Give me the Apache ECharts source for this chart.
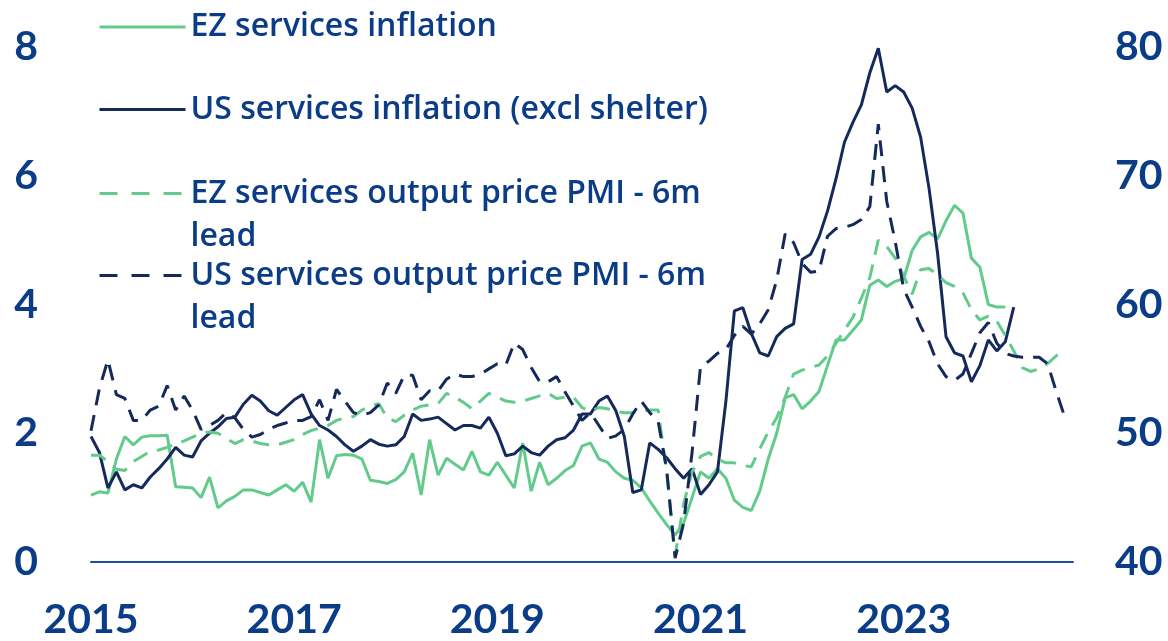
<!DOCTYPE html>
<html>
<head>
<meta charset="utf-8">
<script src="https://cdn.jsdelivr.net/npm/echarts@6/dist/echarts.min.js"></script>
<style>
html,body{margin:0;padding:0;background:#fff;}
#c{width:1168px;height:641px;}
</style>
</head>
<body>
<div id="c"></div>
<script>
// Monthly categories Jan 2015 .. Sep 2024
const startYear = 2015, monthCount = 117;
const months = [];
for (let i = 0; i < monthCount; i++) {
  const y = startYear + Math.floor(i / 12), m = (i % 12) + 1;
  months.push(y + '-' + (m < 10 ? '0' + m : m));
}
const yearTicks = ['2015', '2017', '2019', '2021', '2023'];

const seriesNames = [
  'EZ services inflation',
  'US services inflation (excl shelter)',
  'EZ services output price PMI - 6m lead',
  'US services output price PMI - 6m lead'
];

// EZ services inflation (% y/y, left axis), from Jan 2015
const ezInflation = [1.04,1.09,1.07,1.6,1.95,1.82,1.94,1.96,1.96,1.97,
 1.17,1.16,1.15,1.0,1.32,0.84,0.95,1.02,1.12,1.12,
 1.08,1.04,1.12,1.2,1.1,1.24,0.93,1.9,1.3,1.65,
 1.67,1.66,1.6,1.27,1.25,1.22,1.28,1.4,1.69,1.04,
 1.9,1.35,1.61,1.52,1.43,1.72,1.4,1.35,1.55,1.35,
 1.15,1.85,1.1,1.55,1.2,1.3,1.42,1.5,1.8,1.85,
 1.6,1.55,1.4,1.3,1.27,1.15,0.95,0.76,0.58,0.42,
 0.6,1.0,1.4,1.3,1.45,1.3,0.96,0.85,0.8,1.1,
 1.6,2.0,2.55,2.6,2.38,2.5,2.65,3.05,3.45,3.45,
 3.6,3.76,4.3,4.38,4.28,4.36,4.4,4.84,5.05,5.12,
 5.02,5.3,5.54,5.42,4.72,4.58,4.0,3.96,3.96];

// US services inflation excl shelter (% y/y, left axis)
const usInflation = [1.95,1.7,1.15,1.4,1.12,1.2,1.15,1.32,1.45,1.6,
 1.78,1.66,1.63,1.88,2.0,2.1,2.23,2.25,2.45,2.59,
 2.5,2.35,2.28,2.4,2.52,2.6,2.3,2.12,2.05,1.95,
 1.82,1.72,1.8,1.9,1.83,1.8,1.82,1.95,2.3,2.2,
 2.22,2.25,2.15,2.05,2.12,2.12,2.08,2.25,2.0,1.65,
 1.68,1.8,1.7,1.66,1.8,1.9,1.93,2.05,2.3,2.3,
 2.5,2.58,2.35,1.95,1.08,1.12,1.85,1.75,1.62,1.45,
 1.3,1.45,1.05,1.2,1.4,2.5,3.9,3.95,3.55,3.25,
 3.2,3.5,3.63,3.7,4.7,4.78,5.05,5.45,5.95,6.52,
 6.83,7.1,7.6,7.98,7.3,7.4,7.3,7.05,6.6,5.8,
 4.8,3.5,3.25,3.2,2.8,3.05,3.45,3.28,3.42,3.96];

// EZ services output price PMI, 6m lead (index, right axis)
const ezPmiLead = [48.3,48.3,47.8,47.2,47.1,47.8,48.2,48.6,48.7,48.9,
 49.2,49.4,49.7,50.0,50.1,50.0,49.6,49.2,49.5,49.4,
 49.2,49.1,49.1,49.3,49.5,49.9,50.2,50.4,50.6,51.0,
 51.2,51.3,51.8,52.1,52.3,51.2,50.9,51.4,51.8,52.1,
 52.2,52.3,53.1,52.8,52.4,51.9,52.5,53.1,52.8,52.5,
 52.4,52.5,52.7,52.9,53.1,52.7,52.8,52.8,52.0,51.7,
 52.0,51.9,51.7,51.6,51.6,51.7,51.8,51.8,47.0,40.5,
 44.5,47.0,48.2,48.5,48.0,47.7,47.7,47.5,47.4,48.8,
 50.1,51.2,52.8,54.6,54.9,55.1,55.3,56.0,57.0,58.0,
 59.0,60.5,62.1,65.0,64.5,63.6,62.2,60.8,62.7,62.8,
 62.3,61.7,61.4,60.9,59.6,58.8,59.1,58.7,57.6,56.4,
 55.1,54.8,55.0,55.4,56.0,56.6];

// US services output price PMI, 6m lead (index, right axis)
const usPmiLead = [50.2,53.5,55.7,53.0,52.7,51.0,51.0,51.8,52.1,53.7,
 51.8,52.9,51.8,50.3,50.6,51.0,51.6,51.2,50.3,49.7,
 49.9,50.3,50.6,50.8,51.0,51.0,51.3,52.6,51.0,53.4,
 52.5,51.6,51.4,51.6,52.2,53.9,53.1,54.5,54.5,52.6,
 53.3,53.3,54.2,54.6,54.4,54.4,54.6,55.0,55.4,55.3,
 57.0,56.5,55.1,54.0,54.0,54.4,53.2,52.1,51.0,51.6,
 50.6,49.6,49.8,50.3,51.5,52.5,51.6,50.9,47.2,40.3,
 43.0,48.5,55.2,55.6,56.2,56.5,57.6,58.3,57.7,58.5,
 59.6,61.9,65.5,64.8,63.2,62.5,62.6,65.3,65.9,66.0,
 66.2,66.6,67.6,74.0,68.0,64.9,61.2,59.8,58.3,57.1,
 55.4,54.4,54.1,54.6,56.2,57.8,58.6,57.0,56.2,56.0,
 55.9,55.9,55.9,55.4,53.3,51.3];

const NAVY = '#15295b', GREEN = '#62cb8c', TEXT = '#0b3c87', AXIS = '#1f4e9b';
const AXIS_FONT = 'Lato';
const LEG_FONT = 'Open Sans';
const LH = 43;

// Two-line entries get an empty first line so the symbol lines up with the first text line
function legendFor(name, label, top, color, dashed) {
  return {
    data: [name],
    left: 98, top: top, padding: 0,
    itemWidth: 86, itemHeight: 14,
    lineStyle: { color: color, width: 3, type: dashed ? [18, 14] : 'solid' },
    itemStyle: { opacity: 0 },
    formatter: () => label,
    textStyle: {
      color: TEXT, fontFamily: LEG_FONT, fontWeight: 600, fontSize: 32,
      lineHeight: LH
    },
    selectedMode: false
  };
}

const chart = echarts.init(document.getElementById('c'));
chart.setOption({
  animation: false,
  backgroundColor: '#fff',
  grid: { left: 91, right: 95, top: 47, bottom: 79 },
  legend: [
    legendFor(seriesNames[0], 'EZ services inflation', 27 - LH / 2, GREEN, false),
    legendFor(seriesNames[1], 'US services inflation (excl shelter)', 109.5 - LH / 2, NAVY, false),
    legendFor(seriesNames[2], '\nEZ services output price PMI - 6m\nlead', 193.5 - 1.5 * LH, GREEN, true),
    legendFor(seriesNames[3], '\nUS services output price PMI - 6m\nlead', 275.5 - 1.5 * LH, NAVY, true)
  ],
  xAxis: {
    type: 'category', data: months, boundaryGap: false,
    axisLine: { show: true, onZero: false, lineStyle: { color: AXIS, width: 2 } },
    axisTick: { show: false },
    axisLabel: {
      interval: (i, v) => v.slice(5) === '01' && yearTicks.indexOf(v.slice(0, 4)) >= 0,
      formatter: v => v.slice(0, 4),
      color: TEXT, fontFamily: AXIS_FONT, fontWeight: 'bold', fontSize: 41, margin: 37
    },
    splitLine: { show: false }
  },
  yAxis: [
    {
      type: 'value', min: 0, max: 8, interval: 2,
      axisLine: { show: false }, axisTick: { show: false }, splitLine: { show: false },
      axisLabel: { color: TEXT, fontFamily: AXIS_FONT, fontWeight: 'bold', fontSize: 41, margin: 53 }
    },
    {
      type: 'value', min: 40, max: 80, interval: 10, position: 'right',
      axisLine: { show: false }, axisTick: { show: false }, splitLine: { show: false },
      axisLabel: { color: TEXT, fontFamily: AXIS_FONT, fontWeight: 'bold', fontSize: 41, margin: 42 }
    }
  ],
  series: [
    { name: seriesNames[0], type: 'line', yAxisIndex: 0, data: ezInflation, symbol: 'none',
      lineStyle: { color: GREEN, width: 3 }, itemStyle: { color: GREEN } },
    { name: seriesNames[1], type: 'line', yAxisIndex: 0, data: usInflation, symbol: 'none',
      lineStyle: { color: NAVY, width: 3 }, itemStyle: { color: NAVY } },
    { name: seriesNames[2], type: 'line', yAxisIndex: 1, data: ezPmiLead, symbol: 'none',
      lineStyle: { color: GREEN, width: 3, type: [16, 10] }, itemStyle: { color: GREEN } },
    { name: seriesNames[3], type: 'line', yAxisIndex: 1, data: usPmiLead, symbol: 'none',
      lineStyle: { color: NAVY, width: 3, type: [16, 10] }, itemStyle: { color: NAVY } }
  ]
});
</script>
</body>
</html>
